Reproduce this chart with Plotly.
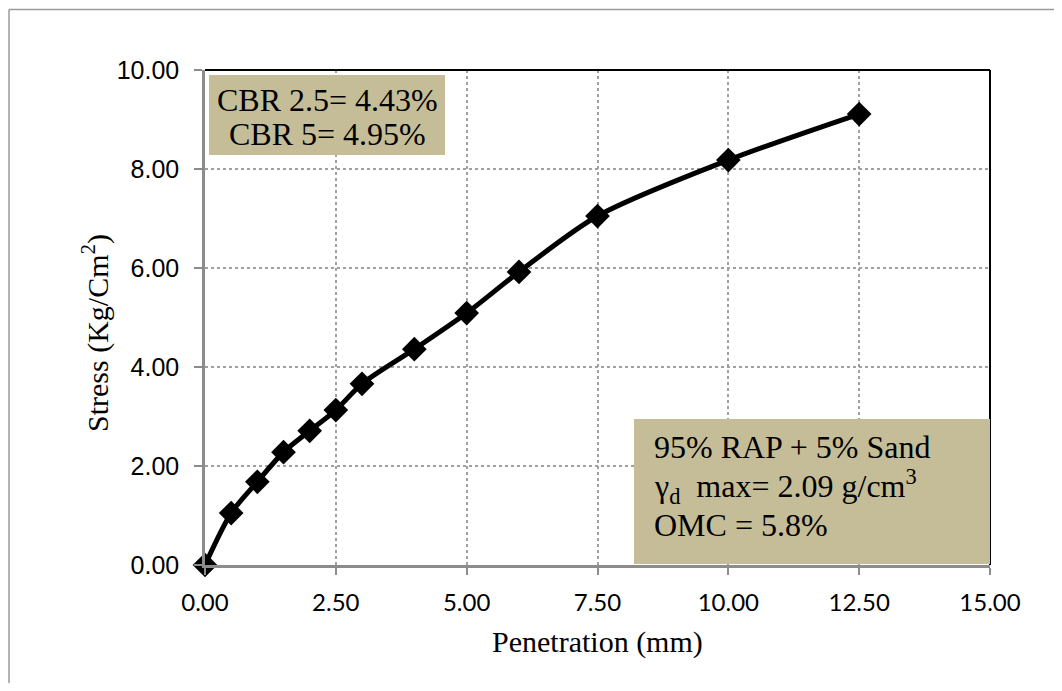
import plotly.graph_objects as go

penetration = [0, 0.5, 1, 1.5, 2, 2.5, 3, 4, 5, 6, 7.5, 10, 12.5]
stress = [0.0, 1.05, 1.68, 2.28, 2.71, 3.13, 3.66, 4.36, 5.09, 5.92, 7.05, 8.18, 9.11]
x_ticks = [0, 2.5, 5, 7.5, 10, 12.5, 15]
y_ticks = [0, 2, 4, 6, 8, 10]
box1_lines = ["CBR 2.5= 4.43%", "CBR 5= 4.95%"]
box2_lines = ["95% RAP + 5% Sand", "γ<sub>d</sub>  max= 2.09 g/cm<sup>3</sup>", "OMC = 5.8%"]
x_title = "Penetration (mm)"
y_title = "Stress (Kg/Cm<sup>2</sup>)"

TAN = "#C4BD97"
SERIF = "Liberation Serif, Times New Roman, serif"

# figure sized to fit inside the page's 8px body margin (no scrollbars)
W, H, OFF = 1062 - 16, 691 - 16, 8
# plot area in page pixels
PL, PR, PT, PB = 205, 990, 70, 565
def px(x):
    return (x - PL) / (PR - PL)
def py(y):
    return (PB - y) / (PB - PT)

fig = go.Figure()
fig.add_trace(go.Scatter(
    x=penetration, y=stress, mode="lines+markers",
    line=dict(color="black", width=5, shape="spline", smoothing=0.8),
    marker=dict(symbol="diamond", size=19, color="black"),
    showlegend=False, cliponaxis=False,
))

# outer frame (only left & top edges visible in the image)
fig.add_shape(type="line", xref="paper", yref="paper",
              x0=px(9), x1=px(9), y0=py(H + OFF), y1=py(9.5),
              line=dict(color="#9a9a9a", width=1.5), layer="below")
fig.add_shape(type="line", xref="paper", yref="paper",
              x0=px(9), x1=px(W + OFF), y0=py(9.5), y1=py(9.5),
              line=dict(color="#9a9a9a", width=1.5), layer="below")
# top and right black plot borders
fig.add_shape(type="line", xref="paper", yref="paper", x0=0, x1=1, y0=1, y1=1,
              line=dict(color="black", width=2))
fig.add_shape(type="line", xref="paper", yref="paper", x0=1, x1=1, y0=0, y1=1,
              line=dict(color="black", width=2))

# annotation boxes
fig.add_shape(type="rect", xref="paper", yref="paper",
              x0=px(209), x1=px(445), y0=py(155), y1=py(75),
              fillcolor=TAN, line=dict(width=0))
fig.add_shape(type="rect", xref="paper", yref="paper",
              x0=px(634), x1=1.0, y0=py(564), y1=py(419),
              fillcolor=TAN, line=dict(width=0))

for txt, yc in zip(box1_lines, [100, 134]):
    fig.add_annotation(xref="paper", yref="paper", x=px(327), y=py(yc),
                       text=txt, showarrow=False, xanchor="center", yanchor="middle",
                       font=dict(family=SERIF, size=32, color="black"))
for txt, yc in zip(box2_lines, [447, 486, 525]):
    fig.add_annotation(xref="paper", yref="paper", x=px(652), y=py(yc),
                       text=txt, showarrow=False, xanchor="left", yanchor="middle",
                       font=dict(family=SERIF, size=32, color="black"))

# axis titles
fig.add_annotation(xref="paper", yref="paper", x=px(95), y=py(333),
                   text=y_title, textangle=-90, showarrow=False,
                   xanchor="center", yanchor="middle",
                   font=dict(family=SERIF, size=30, color="black"))
fig.add_annotation(xref="paper", yref="paper", x=px(597), y=py(642),
                   text=x_title, showarrow=False,
                   xanchor="center", yanchor="middle",
                   font=dict(family=SERIF, size=30, color="black"))

fig.update_layout(
    width=W, height=H,
    margin=dict(l=PL - OFF, r=W + OFF - PR, t=PT - OFF, b=H + OFF - PB),
    paper_bgcolor="white", plot_bgcolor="white",
    xaxis=dict(
        range=[0, 15], tickvals=x_ticks, ticktext=[f"{v:.2f}" for v in x_ticks],
        showline=True, linecolor="#8c8c8c", linewidth=2.5,
        ticks="outside", ticklen=7, tickcolor="#8c8c8c", tickwidth=1.5,
        ticklabelstandoff=7,
        showgrid=True, gridcolor="#a0a0a0", griddash="dot", gridwidth=1.5,
        zeroline=False,
        tickfont=dict(family="Lato, Carlito, sans-serif", size=24, color="black"),
    ),
    yaxis=dict(
        range=[0, 10], tickvals=y_ticks, ticktext=[f"{v:.2f}" for v in y_ticks],
        showline=True, linecolor="#8c8c8c", linewidth=2.5,
        ticks="outside", ticklen=8, tickcolor="#8c8c8c", tickwidth=1.5,
        ticklabelstandoff=10,
        showgrid=True, gridcolor="#a0a0a0", griddash="dot", gridwidth=1.5,
        zeroline=False,
        tickfont=dict(family="Liberation Sans, Arial, sans-serif", size=25, color="black"),
    ),
)

fig.write_html("out.html")
